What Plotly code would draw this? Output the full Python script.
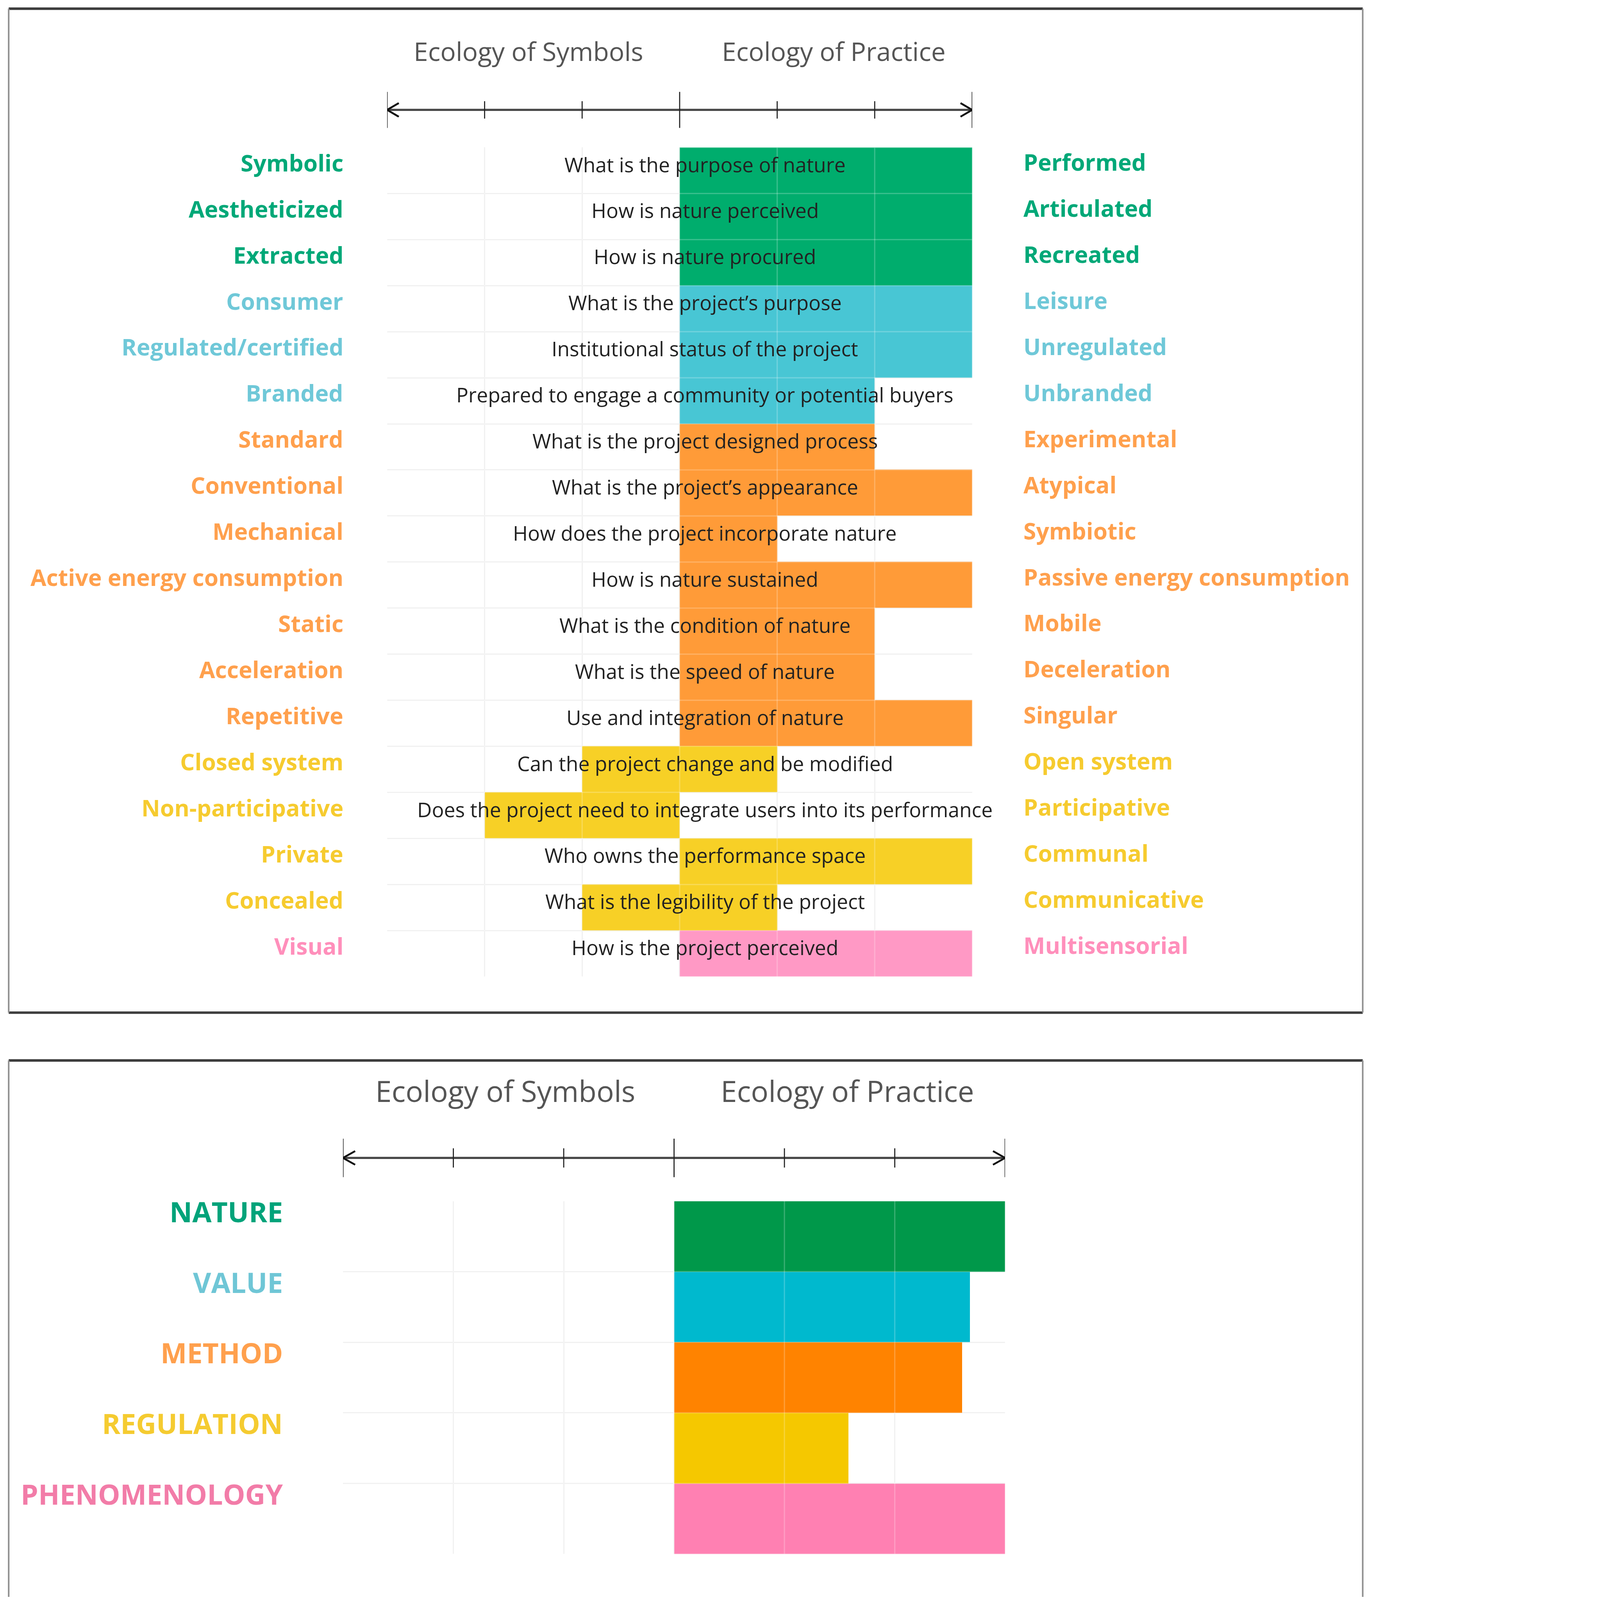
import plotly.graph_objects as go

# reference geometry (pixels of the 4422x5144 reference); the page is scaled to fit the viewport
W, H = 4422, 5144
K = 4088 / H
FONT = "Open Sans"

# ---------------- data: detailed chart ----------------
left_labels = ["Symbolic", "Aestheticized", "Extracted", "Consumer", "Regulated/certified",
               "Branded", "Standard", "Conventional", "Mechanical", "Active energy consumption",
               "Static", "Acceleration", "Repetitive", "Closed system", "Non-participative",
               "Private", "Concealed", "Visual"]
right_labels = ["Performed", "Articulated", "Recreated", "Leisure", "Unregulated",
                "Unbranded", "Experimental", "Atypical", "Symbiotic", "Passive energy consumption",
                "Mobile", "Deceleration", "Singular", "Open system", "Participative",
                "Communal", "Communicative", "Multisensorial"]
questions = ["What is the purpose of nature", "How is nature perceived", "How is nature procured",
             "What is the project\u2019s purpose", "Institutional status of the project",
             "Prepared to engage a community or potential buyers",
             "What is the project designed process", "What is the project\u2019s appearance",
             "How does the project incorporate nature", "How is nature sustained",
             "What is the condition of nature", "What is the speed of nature",
             "Use and integration of nature", "Can the project change and be modified",
             "Does the project need to integrate users into its performance",
             "Who owns the performance space", "What is the legibility of the project",
             "How is the project perceived"]
bar_start = [0, 0, 0, 0, 0, 0, 0, 0, 0, 0, 0, 0, 0, -1, -2, 0, -1, 0]
bar_end = [3, 3, 3, 3, 3, 2, 2, 3, 1, 3, 2, 2, 3, 1, 0, 3, 1, 3]
row_group = (["nature"] * 3 + ["value"] * 3 + ["method"] * 7 +
             ["regulation"] * 4 + ["phenomenology"])

# ---------------- data: summary chart ----------------
summary_cats = ["NATURE", "VALUE", "METHOD", "REGULATION", "PHENOMENOLOGY"]
summary_groups = ["nature", "value", "method", "regulation", "phenomenology"]
summary_vals = [3, 2.68, 2.61, 1.58, 3]

headers = ["Ecology of Symbols", "Ecology of Practice"]
tick_vals = [-3, -2, -1, 0, 1, 2, 3]

# ---------------- styles ----------------
bar_col = {"nature": "#00AD6D", "value": "#48C6D4", "method": "#FF9B38",
           "regulation": "#F7D026", "phenomenology": "#FF99C5"}
sum_col = {"nature": "#00984A", "value": "#00B9CE", "method": "#FF8300",
           "regulation": "#F5C800", "phenomenology": "#FF80B2"}
lab_col = {"nature": "#00A878", "value": "#6FC8D8", "method": "#FFA04D",
           "regulation": "#F6CB2F", "phenomenology": "#FF8FBB"}
sumlab_col = {"nature": "#00A37A", "value": "#6FC6D6", "method": "#FFA04D",
              "regulation": "#F5CB30", "phenomenology": "#F27CA8"}
QX = 0.26  # horizontal anchor of the question texts (data units)


def px(x):
    return x / W


def py(y):
    return 1 - y / H


def s(v):
    return v * K


fig = go.Figure()

n = len(questions)
fig.add_trace(go.Bar(
    orientation="h", y=list(range(n)),
    x=[e - b for b, e in zip(bar_start, bar_end)], base=bar_start,
    width=1, marker=dict(color=[bar_col[g] for g in row_group], line=dict(width=0)),
    hoverinfo="skip", xaxis="x", yaxis="y", showlegend=False))

m = len(summary_cats)
fig.add_trace(go.Bar(
    orientation="h", y=list(range(m)), x=summary_vals, base=[0] * m,
    width=1, marker=dict(color=[sum_col[g] for g in summary_groups], line=dict(width=0)),
    hoverinfo="skip", xaxis="x2", yaxis="y2", showlegend=False))

grid_kw = dict(showgrid=True, gridcolor="#EDEDED", gridwidth=s(4), zeroline=False,
               showticklabels=False, ticks="", showline=False, fixedrange=True)

fig.update_layout(
    width=round(W * K), height=round(H * K), autosize=False,
    margin=dict(l=0, r=0, t=0, b=0),
    paper_bgcolor="white", plot_bgcolor="white",
    bargap=0,
    xaxis=dict(domain=[px(1247), px(3132)], range=[-3, 3], tickvals=tick_vals, **grid_kw),
    yaxis=dict(domain=[py(3146), py(475)], range=[n - 0.5, -0.5],
               tickvals=[i - 0.5 for i in range(n + 1)], **grid_kw),
    xaxis2=dict(domain=[px(1105), px(3238)], range=[-3, 3], tickvals=tick_vals,
                anchor="y2", **grid_kw),
    yaxis2=dict(domain=[py(5006), py(3869)], range=[m - 0.5, -0.5],
                tickvals=[i - 0.5 for i in range(m + 1)], anchor="x2", **grid_kw),
)

ann = []
shapes = []

for i in range(n):
    g = row_group[i]
    ann.append(dict(x=QX, xref="x", y=i, yref="y", text=questions[i],
                    xanchor="center", yanchor="middle", showarrow=False, yshift=s(20),
                    font=dict(family=FONT, size=s(65), color="#222222")))
    ann.append(dict(x=px(1109), xref="paper", y=i, yref="y", text=left_labels[i],
                    xanchor="right", yanchor="middle", showarrow=False, yshift=s(26),
                    font=dict(family=FONT, size=s(74), color=lab_col[g], weight=700)))
    ann.append(dict(x=px(3294), xref="paper", y=i, yref="y", text=right_labels[i],
                    xanchor="left", yanchor="middle", showarrow=False, yshift=s(28),
                    font=dict(family=FONT, size=s(74), color=lab_col[g], weight=700)))

for i in range(m):
    g = summary_groups[i]
    ann.append(dict(x=px(914), xref="paper", y=i, yref="y2", text=summary_cats[i],
                    xanchor="right", yanchor="middle", showarrow=False, yshift=s(80),
                    font=dict(family=FONT, size=s(90), color=sumlab_col[g], weight=700)))


def axis_block(xref, yline, yhead, head_x, head_size, long_h, short_h, arrow_dx):
    for hx, t in zip(head_x, headers):
        ann.append(dict(x=hx, xref=xref, y=py(yhead), yref="paper", text=t,
                        xanchor="center", yanchor="middle", showarrow=False,
                        font=dict(family=FONT, size=s(head_size), color="#555555")))
    yl = py(yline)
    shapes.append(dict(type="line", xref=xref, yref="paper", x0=tick_vals[0], x1=tick_vals[-1],
                       y0=yl, y1=yl, line=dict(color="#474747", width=s(7))))
    for tv in tick_vals:
        h = long_h if tv in (tick_vals[0], 0, tick_vals[-1]) else short_h
        shapes.append(dict(type="line", xref=xref, yref="paper", x0=tv, x1=tv,
                           y0=yl - h / H, y1=yl + h / H, line=dict(color="#222222", width=s(3.5))))
    dy = 22 / H
    for end, sgn in ((tick_vals[0], 1), (tick_vals[-1], -1)):
        shapes.append(dict(type="path", xref=xref, yref="paper",
                           path=f"M {end + sgn * arrow_dx} {yl + dy} L {end} {yl} L {end + sgn * arrow_dx} {yl - dy}",
                           line=dict(color="#111111", width=s(6))))


axis_block("x", 354, 164, [-1.55, 1.58], 83, 58, 28, 0.12)
axis_block("x2", 3730, 3513, [-1.53, 1.57], 94, 62, 31, 0.11)

for xr, yr, nr in (("x", "y", n), ("x2", "y2", m)):
    for tv in tick_vals:
        shapes.append(dict(type="line", xref=xr, yref=yr, x0=tv, x1=tv, y0=-0.5, y1=nr - 0.5,
                           layer="above", line=dict(color="rgba(255,255,255,0.22)", width=s(4))))
    for k in range(nr + 1):
        shapes.append(dict(type="line", xref=xr, yref=yr, x0=-3, x1=3, y0=k - 0.5, y1=k - 0.5,
                           layer="above", line=dict(color="rgba(255,255,255,0.22)", width=s(4))))


def frame(top, bottom):
    shapes.append(dict(type="line", xref="paper", yref="paper", x0=px(28), x1=px(4390),
                       y0=py(top), y1=py(top), line=dict(color="#3d3d3d", width=s(8))))
    if bottom is not None:
        shapes.append(dict(type="line", xref="paper", yref="paper", x0=px(28), x1=px(4390),
                           y0=py(bottom), y1=py(bottom), line=dict(color="#3d3d3d", width=s(8))))
    yb = py(bottom) if bottom is not None else -0.01
    for xx in (28, 4390):
        shapes.append(dict(type="line", xref="paper", yref="paper", x0=px(xx), x1=px(xx),
                           y0=py(top), y1=yb, line=dict(color="#8f8f8f", width=s(5))))


frame(28, 3262)
frame(3416, None)

fig.update_layout(annotations=ann, shapes=shapes)
fig.write_html("out.html", config={"displayModeBar": False},
               post_script="document.body.style.margin='0';")
